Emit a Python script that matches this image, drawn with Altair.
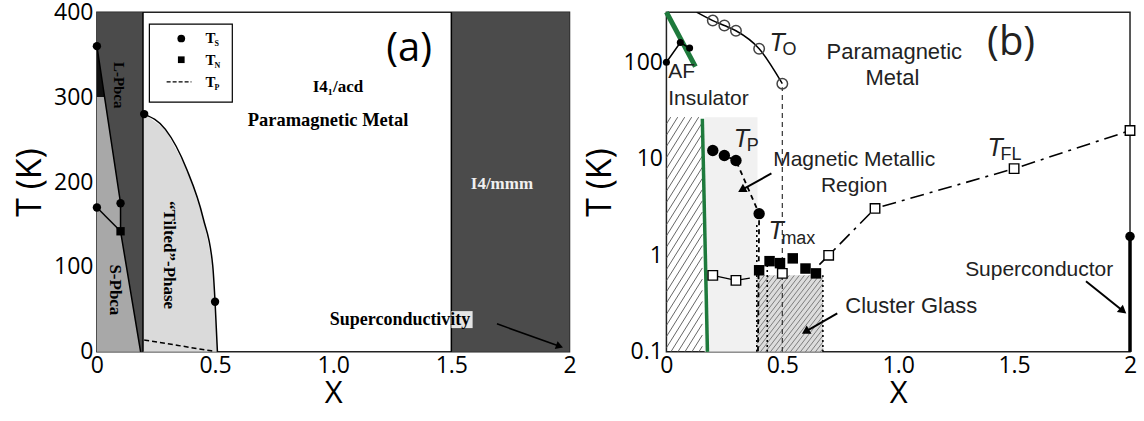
import altair as alt
import pandas as pd
import numpy as np

# ---------------- Panel (a) data ----------------
a_ts_x = [0.0, 0.0, 0.1, 0.2, 0.5]          # T_S circles
a_ts_T = [360, 170, 175, 280, 59]
a_tn_x = [0.1]                               # T_N squares
a_tn_T = [142]
a_line1_x = [0.0, 0.1, 0.1, 0.185]           # L/S-Pbca boundary
a_line1_T = [360, 175, 142, 0]
a_line2_x = [0.0, 0.1]
a_line2_T = [170, 142]
a_tilt_x = [0.195, 0.2, 0.29, 0.38, 0.45, 0.49, 0.5, 0.51]   # tilted phase boundary
a_tilt_T = [280, 280, 262, 215, 157, 102, 59, 0]
a_tp_x = [0.2, 0.29, 0.4, 0.49]              # T_P dashed
a_tp_T = [14, 10, 5, 1]
a_spbca_T = [0, 142, 175, 300]               # S-Pbca region (x from 0 to x2)
a_spbca_x2 = [0.185, 0.1, 0.1, 0.032]
a_black_T = [300, 360]
a_black_x2 = [0.032, 0.0]
a_band_left = [0.0, 0.195]
a_band_right = [1.5, 2.0]

# ---------------- Panel (b) data ----------------
b_tn_x = [0.0, 0.06, 0.1]
b_tn_T = [100, 160, 140]
b_green1_x = [0.0, 0.125]
b_green1_T = [330, 90]
b_green2_x = [0.155, 0.177]
b_green2_T = [26, 0.1]
b_to_line_x = [0.13, 0.2, 0.25, 0.3, 0.4, 0.5]
b_to_line_T = [330, 270, 240, 212, 138, 60]
b_to_x = [0.2, 0.25, 0.3, 0.4, 0.5]
b_to_T = [270, 240, 212, 138, 60]
b_tp_x = [0.2, 0.25, 0.3, 0.4]
b_tp_T = [12.2, 10.8, 9.6, 2.7]
b_tp_line_x = [0.2, 0.25, 0.3, 0.4, 0.395]
b_tp_line_T = [12.2, 10.8, 9.6, 2.7, 0.1]
b_tmax_x = [0.40, 0.445, 0.49, 0.545, 0.60, 0.645]
b_tmax_T = [0.70, 0.87, 0.83, 0.93, 0.73, 0.65]
b_tfl_x = [0.2, 0.3, 0.5, 0.7, 0.9, 1.5, 2.0]
b_tfl_T = [0.62, 0.55, 0.65, 1.0, 3.06, 7.9, 19.6]
b_tfl1_x = [0.2, 0.3, 0.36]
b_tfl1_T = [0.62, 0.55, 0.58]
b_tfl2_x = [0.66, 0.7, 0.9, 1.5, 2.0]
b_tfl2_T = [0.8, 1.0, 3.06, 7.9, 19.6]
b_sc_x = [2.0]
b_sc_T = [1.57]
b_hatch1 = [0.0, 0.155, 0.1, 27]       # x0, x1, T0, T1
b_glass = [0.39, 0.675, 0.1, 0.62]
b_mmr = [0.165, 0.393, 0.1, 27]
b_vlines_x = [0.39, 0.435, 0.675]
b_vlines_T = [2.2, 0.8, 0.62]

W_A, H_A = 473, 340
W_B, H_B = 464, 340
B_DOM = [0.1, 330]

SERIF = "Liberation Serif"
NARROW = "Liberation Sans"
SANS = "Open Sans"

# ---------------- encodings ----------------
lab_expr = "datum.value == 0 ? '0' : datum.value == 2 ? '2' : format(datum.value, '.1f')"
SX_A = alt.Scale(domain=[0, 2], nice=False)
SY_A = alt.Scale(domain=[0, 400], nice=False)
SX_B = alt.Scale(domain=[0, 2], nice=False)
SY_B = alt.Scale(domain=B_DOM, type="log", nice=False)
AX_XA = alt.Axis(values=[0, 0.5, 1, 1.5, 2], labelExpr=lab_expr, title="X", labelFlush=False)
AX_YA = alt.Axis(values=[0, 100, 200, 300, 400], title="T (K)")
AX_XB = alt.Axis(values=[0, 0.5, 1, 1.5, 2], labelExpr=lab_expr, title="X", labelFlush=False)
AX_YB = alt.Axis(values=[0.1, 1, 10, 100], format=".1~f", title="T (K)")


def xa(f="x"):
    return alt.X(f"{f}:Q", scale=SX_A, axis=AX_XA)


def ya(f="T"):
    return alt.Y(f"{f}:Q", scale=SY_A, axis=AX_YA)


def xb(f="x"):
    return alt.X(f"{f}:Q", scale=SX_B, axis=AX_XB)


def yb(f="T"):
    return alt.Y(f"{f}:Q", scale=SY_B, axis=AX_YB)


def df(**kw):
    return pd.DataFrame(kw)


# ---------------- Panel (a) ----------------
la = []
la.append(alt.Chart(df(x=[a_band_left[0], a_band_right[0]], x2=[a_band_left[1], a_band_right[1]],
                       T=[0, 0], T2=[400, 400])).mark_rect(color="#4b4b4b").encode(
    x=xa(), x2="x2", y=ya(), y2="T2"))
la.append(alt.Chart(df(x=a_tilt_x, T=a_tilt_T, T0=[0] * len(a_tilt_x))).mark_area(
    color="#dadada", opacity=1).encode(x=xa(), y=ya(), y2="T0"))
la.append(alt.Chart(df(T=a_spbca_T, x=[0] * len(a_spbca_T), x2=a_spbca_x2)).mark_area(
    orient="horizontal", color="#a8a8a8", opacity=1).encode(y=ya(), x=xa(), x2="x2"))
la.append(alt.Chart(df(T=a_black_T, x=[0, 0], x2=a_black_x2)).mark_area(
    orient="horizontal", color="#111111", opacity=1).encode(y=ya(), x=xa(), x2="x2"))
# vertical boundaries
la.append(alt.Chart(df(x=[a_band_left[1], a_band_right[0]], T=[0, 0], T2=[400, 400])).mark_rule(
    color="black", strokeWidth=1.5).encode(x=xa(), y=ya(), y2="T2"))
la.append(alt.Chart(df(x=a_line1_x, T=a_line1_T, o=list(range(len(a_line1_x))))).mark_line(
    color="black", strokeWidth=1.5).encode(x=xa(), y=ya(), order="o:Q"))
la.append(alt.Chart(df(x=a_line2_x, T=a_line2_T)).mark_line(color="black", strokeWidth=1.5).encode(
    x=xa(), y=ya()))
la.append(alt.Chart(df(x=a_tilt_x[1:], T=a_tilt_T[1:])).mark_line(
    color="black", strokeWidth=1.5, interpolate="monotone").encode(x=xa(), y=ya(), order="x:Q"))
la.append(alt.Chart(df(x=a_tp_x, T=a_tp_T)).mark_line(
    color="black", strokeWidth=1.5, strokeDash=[5, 3], interpolate="monotone").encode(x=xa(), y=ya()))
la.append(alt.Chart(df(x=a_ts_x, T=a_ts_T)).mark_point(
    shape="circle", filled=True, color="black", size=70, opacity=1).encode(x=xa(), y=ya()))
la.append(alt.Chart(df(x=a_tn_x, T=a_tn_T)).mark_point(
    shape="square", filled=True, color="black", size=70, opacity=1).encode(x=xa(), y=ya()))
# legend box
leg_box = [0.222, 0.573, 294, 386]
la.append(alt.Chart(df(x=[leg_box[0]], x2=[leg_box[1]], T=[leg_box[2]], T2=[leg_box[3]])).mark_rect(
    fill="white", stroke="black", strokeWidth=1.2).encode(x=xa(), x2="x2", y=ya(), y2="T2"))
la.append(alt.Chart(df(x=[0.357], T=[369])).mark_point(shape="circle", filled=True, color="black",
                                                        size=60, opacity=1).encode(x=xa(), y=ya()))
la.append(alt.Chart(df(x=[0.357], T=[344])).mark_point(shape="square", filled=True, color="black",
                                                        size=45, opacity=1).encode(x=xa(), y=ya()))
la.append(alt.Chart(df(x=[0.295], x2=[0.40], T=[318])).mark_rule(
    color="black", strokeWidth=1.2, strokeDash=[4, 2]).encode(x=xa(), x2="x2", y=ya()))
la.append(alt.Chart(df(x=[0.46, 0.46, 0.46], T=[369, 344, 318], t=["T", "T", "T"])).mark_text(
    font=SERIF, fontSize=15, fontWeight="bold", align="left", baseline="middle").encode(
    x=xa(), y=ya(), text="t:N"))
la.append(alt.Chart(df(x=[0.46, 0.46, 0.46], T=[369, 344, 318], t=["S", "N", "P"])).mark_text(
    font=SERIF, fontSize=8, fontWeight="bold", align="left", baseline="middle", dx=9, dy=6).encode(
    x=xa(), y=ya(), text="t:N"))
# superconductivity box + arrow
la.append(alt.Chart(df(x=[1.5], x2=[1.59], T=[28], T2=[48])).mark_rect(color="#e4e4e4").encode(
    x=xa(), x2="x2", y=ya(), y2="T2"))
la.append(alt.Chart(df(x=[1.693], x2=[1.955], T=[33], T2=[7])).mark_rule(
    color="black", strokeWidth=1.6).encode(x=xa(), x2="x2", y=ya(), y2="T2"))
la.append(alt.Chart(df(x=[1.958], T=[6.5])).mark_point(
    shape="triangle-right", filled=True, color="black", size=70, angle=20, opacity=1).encode(x=xa(), y=ya()))

# texts
def txt_a(x, T, s, size, color="black", angle=0, font=SERIF, weight="bold"):
    return alt.Chart(df(x=[x], T=[T], t=[s])).mark_text(
        font=font, fontSize=size, fontWeight=weight, color=color, angle=angle,
        align="center", baseline="middle").encode(x=xa(), y=ya(), text="t:N")


la.append(txt_a(0.095, 314, "L-Pbca", 15, angle=90))
la.append(txt_a(0.075, 73, "S-Pbca", 17, angle=90))
la.append(txt_a(0.307, 114, "\u201cTilted\u201d-Phase", 17, angle=90))
la.append(txt_a(1.02, 312, "I4\u2081/acd", 17))
la.append(txt_a(0.978, 273, "Paramagnetic Metal", 18.5))
la.append(txt_a(1.714, 198, "I4/mmm", 17, color="#f0f0f0"))
la.append(txt_a(1.283, 38, "Superconductivity", 18))
la.append(txt_a(1.321, 357, "(a)", 40, font=SANS, weight="normal"))

panel_a = alt.layer(*la).properties(width=W_A, height=H_A)

# ---------------- Panel (b) ----------------
PX_X = W_B / 2.0
PX_D = H_B / (np.log10(B_DOM[1]) - np.log10(B_DOM[0]))


def hatch(box, h, slope):
    x0, x1, t0, t1 = box
    u0, u1 = x0 * PX_X, x1 * PX_X
    v0, v1 = np.log10(t0) * PX_D, np.log10(t1) * PX_D
    cmin, cmax = v0 - slope * u1, v1 - slope * u0
    rows = []
    c = cmin + slope * h / 2
    while c < cmax:
        ua = max(u0, (v0 - c) / slope)
        ub = min(u1, (v1 - c) / slope)
        if ub > ua:
            rows.append(dict(x=ua / PX_X, T=10 ** ((slope * ua + c) / PX_D),
                             x2=ub / PX_X, T2=10 ** ((slope * ub + c) / PX_D)))
        c += slope * h
    return pd.DataFrame(rows)


lb = []
lb.append(alt.Chart(df(x=[b_mmr[0]], x2=[b_mmr[1]], T=[b_mmr[2]], T2=[b_mmr[3]])).mark_rect(
    color="#f1f1f1").encode(x=xb(), x2="x2", y=yb(), y2="T2"))
lb.append(alt.Chart(df(x=[b_glass[0]], x2=[b_glass[1]], T=[b_glass[2]], T2=[b_glass[3]])).mark_rect(
    color="#dcdcdc").encode(x=xb(), x2="x2", y=yb(), y2="T2"))
lb.append(alt.Chart(hatch(b_hatch1, 7, 1.6)).mark_rule(color="#555555", strokeWidth=0.9).encode(
    x=xb(), x2="x2", y=yb(), y2="T2"))
lb.append(alt.Chart(hatch(b_glass, 5, 1.3)).mark_rule(color="#666666", strokeWidth=0.8).encode(
    x=xb(), x2="x2", y=yb(), y2="T2"))
# vertical dotted / dashed lines
lb.append(alt.Chart(df(x=b_vlines_x, T=[0.1] * 3, T2=b_vlines_T)).mark_rule(
    color="black", strokeWidth=1.6, strokeDash=[2, 3]).encode(x=xb(), y=yb(), y2="T2"))
lb.append(alt.Chart(df(x=[0.5], T=[0.1], T2=[55])).mark_rule(
    color="#333333", strokeWidth=1.2, strokeDash=[5, 4]).encode(x=xb(), y=yb(), y2="T2"))
# green lines
lb.append(alt.Chart(df(x=b_green1_x, T=b_green1_T)).mark_line(color="#1e7a3c", strokeWidth=5).encode(
    x=xb(), y=yb()))
lb.append(alt.Chart(df(x=b_green2_x, T=b_green2_T)).mark_line(color="#1e7a3c", strokeWidth=3.5).encode(
    x=xb(), y=yb()))
# T_N
lb.append(alt.Chart(df(x=b_tn_x, T=b_tn_T)).mark_line(color="black", strokeWidth=1.5).encode(
    x=xb(), y=yb()))
lb.append(alt.Chart(df(x=b_tn_x, T=b_tn_T)).mark_point(shape="circle", filled=True, color="black",
                                                      size=50, opacity=1).encode(x=xb(), y=yb()))
# T_O
lb.append(alt.Chart(df(x=b_to_line_x, T=b_to_line_T)).mark_line(
    color="black", strokeWidth=1.5, interpolate="monotone", clip=True).encode(x=xb(), y=yb()))
lb.append(alt.Chart(df(x=b_to_x, T=b_to_T)).mark_point(
    shape="circle", filled=False, color="#444444", size=110, strokeWidth=1.5, opacity=1).encode(
    x=xb(), y=yb()))
# T_P
lb.append(alt.Chart(df(x=b_tp_line_x, T=b_tp_line_T, o=list(range(len(b_tp_line_x))))).mark_line(
    color="black", strokeWidth=1.8, strokeDash=[5, 4]).encode(x=xb(), y=yb(), order="o:Q"))
lb.append(alt.Chart(df(x=b_tp_x, T=b_tp_T)).mark_point(shape="circle", filled=True, color="black",
                                                      size=130, opacity=1).encode(x=xb(), y=yb()))
# T_FL
lb.append(alt.Chart(df(x=b_tfl1_x, T=b_tfl1_T)).mark_line(color="black", strokeWidth=1.3).encode(
    x=xb(), y=yb()))
lb.append(alt.Chart(df(x=b_tfl2_x, T=b_tfl2_T)).mark_line(
    color="black", strokeWidth=1.6, strokeDash=[14, 6, 3, 6]).encode(x=xb(), y=yb()))
# T_max filled squares
lb.append(alt.Chart(df(x=b_tmax_x, T=b_tmax_T)).mark_point(shape="square", filled=True, color="black",
                                                          size=110, opacity=1).encode(x=xb(), y=yb()))
lb.append(alt.Chart(df(x=b_tfl_x, T=b_tfl_T)).mark_point(
    shape="square", filled=True, fill="white", stroke="black", strokeWidth=1.4, size=90, opacity=1).encode(
    x=xb(), y=yb()))
# superconductor
lb.append(alt.Chart(df(x=b_sc_x, T=[0.1], T2=b_sc_T)).mark_rule(color="black", strokeWidth=3.5).encode(
    x=xb(), y=yb(), y2="T2"))
lb.append(alt.Chart(df(x=b_sc_x, T=b_sc_T)).mark_point(shape="circle", filled=True, color="black",
                                                      size=90, opacity=1).encode(x=xb(), y=yb()))

# arrows (start -> end, head angle)
arr_x = [0.453, 0.737, 1.81]
arr_T = [7.06, 0.25, 0.54]
arr_x2 = [0.325, 0.60, 1.97]
arr_T2 = [4.75, 0.162, 0.265]
arr_ang = [150, 150, 39]
lb.append(alt.Chart(df(x=arr_x, T=arr_T, x2=arr_x2, T2=arr_T2)).mark_rule(
    color="black", strokeWidth=2).encode(x=xb(), x2="x2", y=yb(), y2="T2"))
for xx, tt, aa in zip(arr_x2, arr_T2, arr_ang):
    lb.append(alt.Chart(df(x=[xx], T=[tt])).mark_point(
        shape="triangle-right", filled=True, color="black", size=90, angle=aa, opacity=1).encode(
        x=xb(), y=yb()))


def txt_b(x, T, s, size, align="center", font=NARROW, style="normal", dx=0, dy=0, color="#222222"):
    return alt.Chart(df(x=[x], T=[T], t=[s])).mark_text(
        font=font, fontSize=size, fontStyle=style, align=align, baseline="middle", dx=dx, dy=dy,
        color=color).encode(x=xb(), y=yb(), text="t:N")


lb.append(txt_b(0.983, 129, "Paramagnetic", 22))
lb.append(txt_b(0.975, 68, "Metal", 22))
lb.append(txt_b(1.487, 160, "(b)", 40, font=SANS))
lb.append(txt_b(0.008, 80, "AF", 21, align="left"))
lb.append(txt_b(0.008, 42, "Insulator", 21, align="left"))
lb.append(txt_b(0.81, 9.6, "Magnetic Metallic", 21))
lb.append(txt_b(0.81, 5.2, "Region", 21))
lb.append(txt_b(1.056, 0.297, "Cluster Glass", 22))
lb.append(txt_b(1.608, 0.70, "Superconductor", 21))
# italic T with subscripts
lb.append(txt_b(0.445, 160, "T", 25, align="left", style="italic"))
lb.append(txt_b(0.445, 160, "O", 18, align="left", dx=13, dy=7))
lb.append(txt_b(0.29, 16, "T", 25, align="left", style="italic"))
lb.append(txt_b(0.29, 16, "P", 18, align="left", dx=13, dy=7))
lb.append(txt_b(0.44, 1.8, "T", 25, align="left", style="italic"))
lb.append(txt_b(0.44, 1.8, "max", 18, align="left", dx=13, dy=8))
lb.append(txt_b(1.385, 12.8, "T", 25, align="left", style="italic"))
lb.append(txt_b(1.385, 12.8, "FL", 18, align="left", dx=13, dy=7))

panel_b = alt.layer(*lb).properties(width=W_B, height=H_B)

chart = alt.hconcat(panel_a, panel_b, spacing=97, bounds="flush").properties(
    padding={"left": 12, "top": 0, "right": 5, "bottom": 0}
).configure_view(stroke="#222222", strokeWidth=1.5).configure_axis(
    labelFont=SANS, labelFontSize=23, labelColor="black", labelPadding=4,
    titleFont=SANS, titleFontSize=34, titleFontWeight="normal", titleColor="black",
    grid=False, ticks=False, domain=False
).configure_axisX(titlePadding=1, labelPadding=3, titleFontSize=31).configure_axisY(titlePadding=6)

chart.save("out.html", embed_options={"renderer": "svg", "actions": False})
